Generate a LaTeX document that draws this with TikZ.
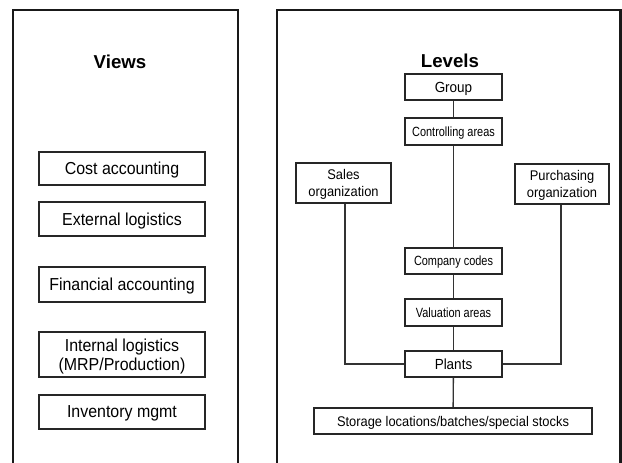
\documentclass[tikz,border=0pt]{standalone}
\usepackage{fontspec}
\setmainfont{Liberation Sans}
\newfontfamily\boxfont[FakeStretch=0.92]{Liberation Sans}
\newfontfamily\narrowfont[FakeStretch=0.82]{Liberation Sans}
\begin{document}
\begin{tikzpicture}[x=0.75pt,y=-0.75pt,
  panel/.style={line width=2.2pt,draw=black!90},
  box/.style={draw=black!85,line width=1.2pt,inner sep=0pt,align=center,text depth=0pt,
    font=\boxfont\fontsize{13pt}{14.5pt}\selectfont},
  smallbox/.style={box,font=\narrowfont\fontsize{10pt}{12pt}\selectfont},
  midbox/.style={box,font=\boxfont\fontsize{10.5pt}{12.5pt}\selectfont},
  bigmid/.style={box,font=\boxfont\fontsize{11pt}{13pt}\selectfont},
  title/.style={font=\bfseries\fontsize{14pt}{16pt}\selectfont},
  link/.style={draw=black!80,line width=1pt}]
\useasboundingbox (0,0) rectangle (622,463);
\clip (0,0) rectangle (622,463);

% outer frames, open at the bottom
\draw[panel] (13,475) -- (13,10) -- (238,10) -- (238,475);
\draw[panel] (277,475) -- (277,10) -- (620.5,10) -- (620.5,475);

% views column
\node[title] (views) at (120,62) {Views};
\node[box,minimum width={166*0.75pt},minimum height={33*0.75pt}] (cost) at (122,168.5) {Cost accounting};
\node[box,minimum width={166*0.75pt},minimum height={34*0.75pt}] (ext) at (122,219) {External logistics};
\node[box,minimum width={166*0.75pt},minimum height={35*0.75pt}] (fin) at (122,284.5) {Financial accounting};
\node[box,minimum width={166*0.75pt},minimum height={45*0.75pt}] (int) at (122,354.5) {Internal logistics\\(MRP/Production)};
\node[box,minimum width={166*0.75pt},minimum height={34*0.75pt}] (inv) at (122,412) {Inventory mgmt};

% levels hierarchy
\node[title] (levels) at (450,61) {Levels};
\node[bigmid,minimum width={97*0.75pt},minimum height={26*0.75pt}] (group) at (453.5,87) {Group};
\node[smallbox,minimum width={97*0.75pt},minimum height={27*0.75pt}] (ctrl) at (453.5,131.5) {Controlling areas};
\node[midbox,minimum width={95*0.75pt},minimum height={40*0.75pt}] (sales) at (343.5,183) {Sales\\organization};
\node[midbox,minimum width={94*0.75pt},minimum height={40*0.75pt}] (purch) at (562,184) {Purchasing\\organization};
\node[smallbox,minimum width={97*0.75pt},minimum height={26*0.75pt}] (comp) at (453.5,261) {Company codes};
\node[smallbox,minimum width={97*0.75pt},minimum height={27*0.75pt}] (val) at (453.5,312.5) {Valuation areas};
\node[bigmid,minimum width={97*0.75pt},minimum height={26*0.75pt}] (plants) at (453.5,364) {Plants};
\node[midbox,minimum width={278*0.75pt},minimum height={26*0.75pt}] (stor) at (453,421) {Storage locations/batches/special stocks};

\draw[link] (group) -- (ctrl);
\draw[link] (ctrl) -- (comp);
\draw[link] (comp) -- (val);
\draw[link] (val) -- (plants);
\draw[link] (plants) -- (stor);
\draw[link] ([xshift=1.1pt]sales.south) |- (plants.west);
\draw[link] ([xshift=-0.75pt]purch.south) |- (plants.east);
\end{tikzpicture}
\end{document}
